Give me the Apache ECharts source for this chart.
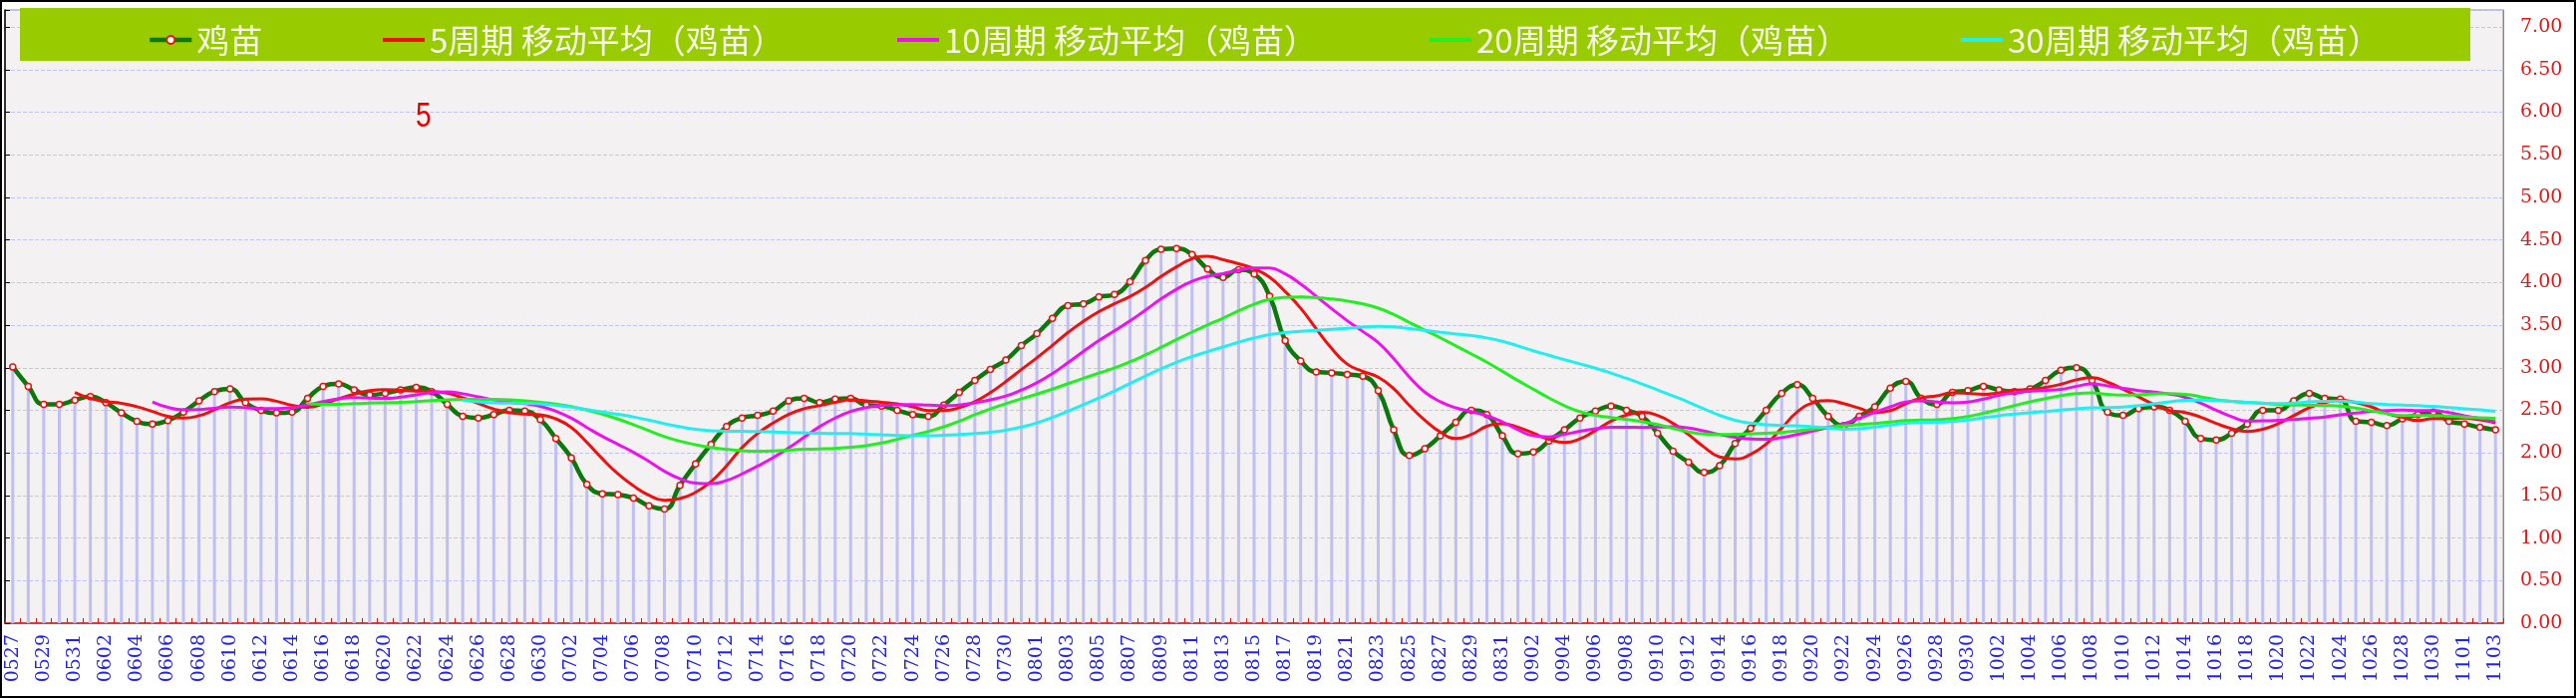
<!DOCTYPE html>
<html><head><meta charset="utf-8">
<script src="https://cdn.jsdelivr.net/npm/echarts@6/dist/echarts.min.js"></script>
<style>html,body{margin:0;padding:0;background:#fff}#c{width:2584px;height:700px}</style>
</head><body><div id="c"></div>
<script>
const categories = [
'0527','0528','0529','0530','0531',
'0601','0602','0603','0604','0605','0606','0607','0608','0609','0610','0611','0612','0613','0614','0615','0616','0617','0618','0619','0620','0621','0622','0623','0624','0625','0626','0627','0628','0629','0630',
'0701','0702','0703','0704','0705','0706','0707','0708','0709','0710','0711','0712','0713','0714','0715','0716','0717','0718','0719','0720','0721','0722','0723','0724','0725','0726','0727','0728','0729','0730','0731',
'0801','0802','0803','0804','0805','0806','0807','0808','0809','0810','0811','0812','0813','0814','0815','0816','0817','0818','0819','0820','0821','0822','0823','0824','0825','0826','0827','0828','0829','0830','0831',
'0901','0902','0903','0904','0905','0906','0907','0908','0909','0910','0911','0912','0913','0914','0915','0916','0917','0918','0919','0920','0921','0922','0923','0924','0925','0926','0927','0928','0929','0930',
'1001','1002','1003','1004','1005','1006','1007','1008','1009','1010','1011','1012','1013','1014','1015','1016','1017','1018','1019','1020','1021','1022','1023','1024','1025','1026','1027','1028','1029','1030','1031',
'1101','1102','1103'];

const chickPrice = [
3.01,2.78,2.57,2.57,2.62,2.66,2.59,2.47,2.37,2.34,
2.38,2.48,2.61,2.72,2.75,2.59,2.50,2.47,2.48,2.64,
2.78,2.81,2.74,2.68,2.70,2.74,2.77,2.72,2.57,2.43,
2.41,2.45,2.50,2.49,2.39,2.17,1.94,1.63,1.52,1.51,
1.47,1.38,1.34,1.62,1.87,2.10,2.31,2.41,2.44,2.49,
2.61,2.64,2.59,2.63,2.64,2.56,2.55,2.50,2.45,2.43,
2.56,2.71,2.85,2.98,3.09,3.26,3.40,3.58,3.73,3.75,
3.83,3.86,4.01,4.26,4.39,4.40,4.33,4.16,4.06,4.15,
4.10,3.84,3.32,3.08,2.95,2.94,2.92,2.90,2.73,2.27,
1.97,2.05,2.20,2.36,2.50,2.45,2.20,1.99,2.01,2.14,
2.27,2.41,2.49,2.55,2.50,2.43,2.23,2.02,1.89,1.77,
1.85,2.11,2.29,2.50,2.70,2.80,2.64,2.43,2.32,2.43,
2.54,2.76,2.84,2.64,2.57,2.71,2.73,2.78,2.74,2.72,
2.75,2.85,2.97,3.00,2.85,2.48,2.44,2.52,2.54,2.50,
2.37,2.17,2.15,2.23,2.34,2.50,2.50,2.61,2.70,2.64,
2.63,2.37,2.36,2.32,2.40,2.45,2.48,2.37,2.34,2.30,
2.27];

const maPeriods = [5, 10, 20, 30];
const seriesNames = ['鸡苗', '5周期 移动平均（鸡苗）', '10周期 移动平均（鸡苗）', '20周期 移动平均（鸡苗）', '30周期 移动平均（鸡苗）'];
const annotationText = '5';

// Excel-style moving-average trendline of the series
function movingAverage(data, n) {
  return data.map((v, i) => {
    if (i < n - 1) return '-';
    let s = 0;
    for (let k = i - n + 1; k <= i; k++) s += data[k];
    return +(s / n).toFixed(4);
  });
}

const maColors = ['#ee1111', '#ee11ee', '#22ee22', '#22eeee'];
const legendLefts = [143, 379, 895, 1429, 1962];

const chart = echarts.init(document.getElementById('c'), null, {renderer: 'canvas'});

const series = [
  {
    name: 'drop', type: 'bar', data: chickPrice, yAxisIndex: 1,
    barWidth: 3, itemStyle: {color: '#bfbff6'}, z: 1, silent: true
  },
  {
    name: seriesNames[0], type: 'line', data: chickPrice, yAxisIndex: 1,
    smooth: true, symbol: 'circle', symbolSize: 6, showSymbol: true,
    lineStyle: {color: '#0b780b', width: 4.5},
    itemStyle: {color: '#ffffff', borderColor: '#ee1111', borderWidth: 1.5},
    z: 3
  }
];
maPeriods.forEach((p, k) => {
  series.push({
    name: seriesNames[k + 1], type: 'line', data: movingAverage(chickPrice, p), yAxisIndex: 1,
    smooth: true, symbol: 'none', showSymbol: false,
    lineStyle: {color: maColors[k], width: 3},
    itemStyle: {color: maColors[k]},
    z: 4
  });
});

const legendText = {color: '#f6f6ea', fontSize: 33, fontFamily: '"Noto Sans CJK SC"', lineHeight: 40};
const legends = seriesNames.map((n, i) => {
  if (i === 0) {
    return {
      data: [{name: n}], left: legendLefts[i], top: 15,
      itemWidth: 42, itemHeight: 10, itemGap: 0,
      lineStyle: {width: 4.5, color: '#0b780b'},
      itemStyle: {color: '#ffffff', borderColor: '#ee1111', borderWidth: 2},
      textStyle: legendText, z: 20, selectedMode: false
    };
  }
  return {
    data: [{name: n, icon: 'rect'}], left: legendLefts[i], top: 15,
    itemWidth: 42, itemHeight: 4, itemGap: 0,
    textStyle: legendText, z: 20, selectedMode: false
  };
});

const option = {
  animation: false,
  backgroundColor: '#ffffff',
  grid: {
    left: 5, right: 73, top: 10, bottom: 75,
    show: true, backgroundColor: '#f3f1f1', borderColor: '#8a8a8a', borderWidth: 1
  },
  legend: legends,
  xAxis: {
    type: 'category', data: categories, boundaryGap: true,
    axisLine: {show: true, lineStyle: {color: '#dd1111', width: 1.5}},
    axisTick: {show: true, inside: true, interval: 0, length: 5, lineStyle: {color: '#dd1111'}},
    axisLabel: {interval: 1, rotate: 90, margin: 11, color: '#2222e6', fontSize: 19, fontFamily: '"DejaVu Serif"'},
    splitLine: {show: false}
  },
  yAxis: [
    {
      type: 'value', position: 'left', min: 0, max: 7.2, interval: 0.5,
      axisLine: {show: true, lineStyle: {color: '#000000', width: 1.5}},
      axisTick: {show: true, inside: true, length: 5, lineStyle: {color: '#000000'}},
      axisLabel: {show: false}, splitLine: {show: false}
    },
    {
      type: 'value', position: 'right', min: 0, max: 7.2, interval: 0.5,
      axisLine: {show: true, lineStyle: {color: '#8a8a8a', width: 1}},
      axisTick: {show: false},
      axisLabel: {
        show: true, showMaxLabel: false, margin: 17, color: '#e01818', fontSize: 19,
        fontFamily: '"DejaVu Serif"', formatter: v => v.toFixed(2)
      },
      splitLine: {show: true, lineStyle: {color: '#c4c4f4', type: 'dashed', width: 1}}
    }
  ],
  graphic: [
    {type: 'rect', shape: {x: 20, y: 8, width: 2458, height: 53}, style: {fill: '#99cc00'}, z: 10},
    {type: 'text', x: 417, y: 100, scaleX: 0.8, style: {text: annotationText, fill: '#e80000', fontSize: 35, fontFamily: '"Liberation Sans"'}, z: 10},
    {type: 'rect', shape: {x: 1, y: 1, width: 2582, height: 698}, style: {fill: 'none', stroke: '#000000', lineWidth: 2}, z: 30}
  ],
  series: series
};
chart.setOption(option);
</script>
</body></html>
